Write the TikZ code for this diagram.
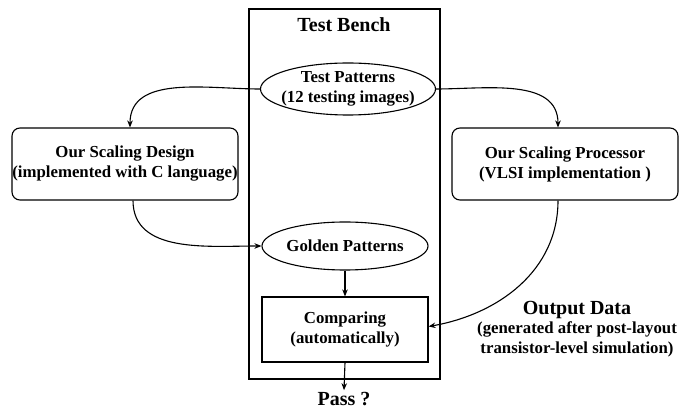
\documentclass[tikz,border=0pt]{standalone}
\usepackage{fontspec}
\setmainfont{Liberation Serif}
\usetikzlibrary{shapes.geometric,arrows.meta}

\begin{document}
\begin{tikzpicture}[x=1pt,y=-1pt,line width=1.1pt,
    txt/.style={font=\bfseries\fontsize{16.8}{20}\selectfont,align=center},
    big/.style={font=\bfseries\fontsize{20}{24}\selectfont},
    oval/.style={draw,ellipse,inner sep=0pt},
    box/.style={draw,rectangle,inner sep=0pt},
    arr/.style={-{Stealth[length=7pt,width=5.5pt]}}]
  \useasboundingbox (0,0) rectangle (694,411);
  \node[box,minimum width=191,minimum height=370] (bench) at (344.5,194) {};
  \node[big,anchor=base] (title) at (344,32) {Test Bench};
  \node[oval,minimum width=175,minimum height=52] (patterns) at (348,89) {};
  \node[txt] at (patterns) {Test Patterns\\(12 testing images)};
  \node[box,rounded corners=8pt,minimum width=226,minimum height=72] (design) at (125,164) {};
  \node[txt] at (design) {Our Scaling Design\\(implemented with C language)};
  \node[box,rounded corners=8pt,minimum width=226,minimum height=72] (processor) at (565,164) {};
  \node[txt] at (processor) {Our Scaling Processor\\(VLSI implementation )};
  \node[oval,minimum width=166,minimum height=48] (golden) at (345,246) {};
  \node[txt] at (golden) {Golden Patterns};
  \node[box,minimum width=166,minimum height=65] (compare) at (345,329.5) {};
  \node[txt] at (compare) {Comparing\\(automatically)};
  \node[big,anchor=base,inner sep=2pt] (pass) at (344,406) {Pass ?};
  \node[txt] (output) at (577,329) {{\fontsize{20}{24}\selectfont Output Data}\\[-1pt](generated after post-layout\\transistor-level simulation)};
  \draw[arr] (patterns.west) to[out=180,in=90] ([xshift=5]design.north);
  \draw[arr] (patterns.east) to[out=0,in=90] ([xshift=-7]processor.north);
  \draw[arr] ([xshift=8]design.south) to[out=-90,in=180] (golden.west);
  \draw[arr] ([xshift=-7]processor.south) to[out=-90,in=10] ([yshift=3]compare.east);
  \draw[arr] (golden.south) -- (compare.north);
  \draw[arr] (compare.south) -- (pass.north);
\end{tikzpicture}
\end{document}
